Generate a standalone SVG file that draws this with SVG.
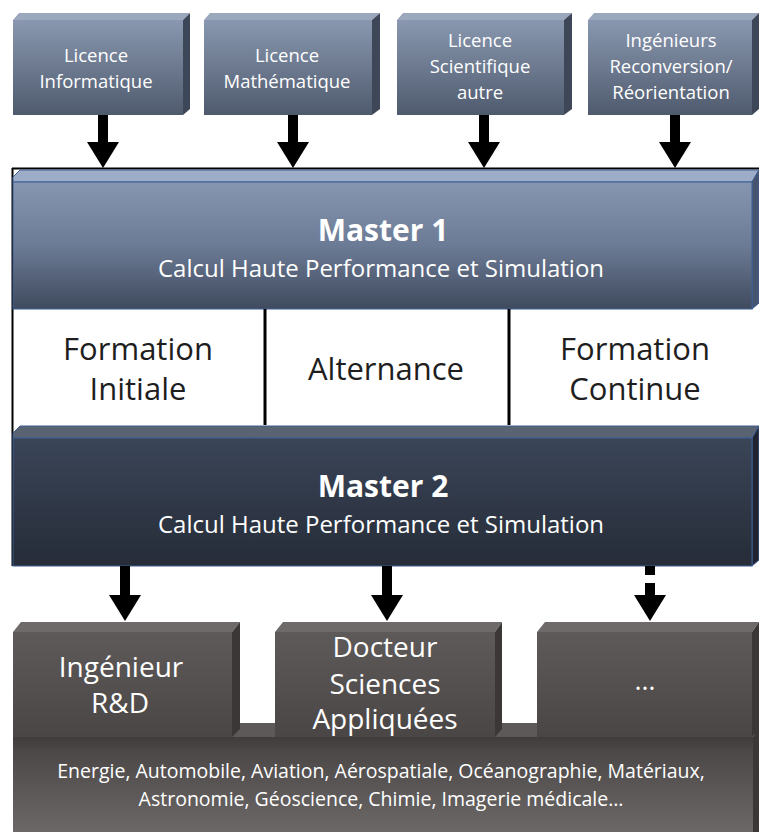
<svg xmlns="http://www.w3.org/2000/svg" width="759" height="832" viewBox="0 0 759 832">
  <defs>
    <linearGradient id="gTop" x1="0" y1="0" x2="0" y2="1">
      <stop offset="0" stop-color="#8998b0"/>
      <stop offset="1" stop-color="#4f5a6d"/>
    </linearGradient>
    <linearGradient id="gM1" x1="0" y1="0" x2="0" y2="1">
      <stop offset="0" stop-color="#8696b1"/>
      <stop offset="0.5" stop-color="#6c7b95"/>
      <stop offset="1" stop-color="#3f4a5e"/>
    </linearGradient>
    <linearGradient id="gM2" x1="0" y1="0" x2="0" y2="1">
      <stop offset="0" stop-color="#3a4558"/>
      <stop offset="1" stop-color="#262c38"/>
    </linearGradient>
    <linearGradient id="gOut" x1="0" y1="0" x2="0" y2="1">
      <stop offset="0" stop-color="#5e5a59"/>
      <stop offset="1" stop-color="#4a4645"/>
    </linearGradient>
    <linearGradient id="gBase" x1="0" y1="0" x2="0" y2="1">
      <stop offset="0" stop-color="#3f3c3b"/>
      <stop offset="0.15" stop-color="#4c4847"/>
      <stop offset="1" stop-color="#6c6867"/>
    </linearGradient>
    <marker id="head" viewBox="0 0 26 32" refX="0" refY="16" markerWidth="26" markerHeight="32" markerUnits="userSpaceOnUse" orient="auto">
      <path d="M0 0 L26 16 L0 32 Z" fill="#000"/>
    </marker>
    <style>
      .t { font-family: "Open Sans", "Liberation Sans", sans-serif; text-anchor: middle; }
      .w { fill: #ffffff; }
      .k { fill: #1e1e1e; }
      .top-front { fill: url(#gTop); }
      .top-bevel { fill: #9aa7bd; }
      .top-side { fill: #3e4757; }
      .m1-bevel { fill: #9dadc8; stroke: #3f5f93; stroke-width: 1; }
      .m1-side { fill: #465470; stroke: #3f5f93; stroke-width: 1; }
      .m2-bevel { fill: #5a6371; stroke: #3f5f93; stroke-width: 1; }
      .m2-side { fill: #1f2430; stroke: #3f5f93; stroke-width: 1; }
      .out-bevel { fill: #6e6a69; }
      .out-side { fill: #3a3736; }
      .stem { stroke: #000; stroke-width: 10; fill: none; }
    </style>
  </defs>

  <rect width="759" height="832" fill="#ffffff"/>

  <!-- entry tracks -->
  <g id="licence-info">
    <polygon class="top-bevel" points="13,20 19,13 190,13 183,20"/>
    <polygon class="top-side" points="183,20 190,13 190,109 183,115"/>
    <rect class="top-front" x="13" y="20" width="170" height="95"/>
    <text class="t w" font-size="18.5" x="96" y="62">Licence</text>
    <text class="t w" font-size="18.5" x="96" y="88">Informatique</text>
  </g>
  <g id="licence-math">
    <polygon class="top-bevel" points="204,20 210,13 380,13 372,20"/>
    <polygon class="top-side" points="372,20 380,13 380,109 372,115"/>
    <rect class="top-front" x="204" y="20" width="168" height="95"/>
    <text class="t w" font-size="18.5" x="287" y="62">Licence</text>
    <text class="t w" font-size="18.5" x="287" y="88">Mathématique</text>
  </g>
  <g id="licence-sci">
    <polygon class="top-bevel" points="397,20 403,13 572,13 564,20"/>
    <polygon class="top-side" points="564,20 572,13 572,109 564,115"/>
    <rect class="top-front" x="397" y="20" width="167" height="95"/>
    <text class="t w" font-size="18.5" x="480" y="47">Licence</text>
    <text class="t w" font-size="18.5" x="480" y="73">Scientifique</text>
    <text class="t w" font-size="18.5" x="480" y="99">autre</text>
  </g>
  <g id="ingenieurs">
    <polygon class="top-bevel" points="588,20 594,13 759,13 752,20"/>
    <polygon class="top-side" points="752,20 759,13 759,109 752,115"/>
    <rect class="top-front" x="588" y="20" width="164" height="95"/>
    <text class="t w" font-size="18.5" x="671" y="47">Ingénieurs</text>
    <text class="t w" font-size="18.5" x="671" y="73">Reconversion/</text>
    <text class="t w" font-size="18.5" x="671" y="99">Réorientation</text>
  </g>

  <!-- frame around the master block -->
  <line x1="12" y1="168.5" x2="759" y2="168.5" stroke="#000" stroke-width="2"/>
  <line x1="12.5" y1="168" x2="12.5" y2="566" stroke="#000" stroke-width="2"/>

  <g id="master1">
    <polygon class="m1-bevel" points="13,182 13,177 20,170 759,170 752,182"/>
    <polygon class="m1-side" points="752,182 759,170 759,303 752,309"/>
    <rect x="13" y="182" width="739" height="127" fill="url(#gM1)" stroke="#3f5f93" stroke-width="1"/>
    <text class="t w" font-size="30" font-weight="bold" x="383" y="241">Master 1</text>
    <text class="t w" font-size="24" x="381" y="277">Calcul Haute Performance et Simulation</text>
  </g>

  <g id="formation">
    <rect x="14" y="310" width="745" height="115" fill="#ffffff"/>
    <line x1="265" y1="309" x2="265" y2="425" stroke="#000" stroke-width="3"/>
    <line x1="509" y1="309" x2="509" y2="425" stroke="#000" stroke-width="3"/>
    <text class="t k" font-size="31" x="138" y="360">Formation</text>
    <text class="t k" font-size="31" x="138" y="400">Initiale</text>
    <text class="t k" font-size="31" x="386" y="380">Alternance</text>
    <text class="t k" font-size="31" x="635" y="360">Formation</text>
    <text class="t k" font-size="31" x="635" y="400">Continue</text>
  </g>

  <g id="master2">
    <polygon class="m2-bevel" points="13,438 13,433 20,426 759,426 752,438"/>
    <polygon class="m2-side" points="752,438 759,426 759,560 752,566"/>
    <rect x="13" y="438" width="739" height="128" fill="url(#gM2)" stroke="#3f5f93" stroke-width="1"/>
    <text class="t w" font-size="30" font-weight="bold" x="383" y="497">Master 2</text>
    <text class="t w" font-size="24" x="381" y="533">Calcul Haute Performance et Simulation</text>
  </g>

  <!-- sectors base -->
  <g id="secteurs">
    <polygon points="13,737 25,723 759,723 753,737" fill="#5c5958"/>
    <polygon class="out-side" points="753,737 759,723 759,832 753,832"/>
    <rect x="13" y="737" width="740" height="95" fill="url(#gBase)"/>
    <text class="t w" font-size="19.5" x="381" y="778">Energie, Automobile, Aviation, Aérospatiale, Océanographie, Matériaux,</text>
    <text class="t w" font-size="19.5" x="381" y="806">Astronomie, Géoscience, Chimie, Imagerie médicale…</text>
  </g>

  <g id="ingenieur-rd">
    <polygon class="out-bevel" points="13,632 21,622 240,622 232,632"/>
    <polygon class="out-side" points="232,632 240,622 240,729 232,737"/>
    <rect x="13" y="632" width="219" height="105" fill="url(#gOut)"/>
    <text class="t w" font-size="28" x="121" y="677">Ingénieur</text>
    <text class="t w" font-size="28" x="120" y="713">R&amp;D</text>
  </g>
  <g id="docteur">
    <polygon class="out-bevel" points="275,632 283,622 502,622 495,632"/>
    <polygon class="out-side" points="495,632 502,622 502,729 495,737"/>
    <rect x="275" y="632" width="220" height="105" fill="url(#gOut)"/>
    <text class="t w" font-size="28" x="385" y="657">Docteur</text>
    <text class="t w" font-size="28" x="385" y="694">Sciences</text>
    <text class="t w" font-size="28" x="385" y="729">Appliquées</text>
  </g>
  <g id="autres">
    <polygon class="out-bevel" points="537,632 545,622 759,622 752,632"/>
    <polygon class="out-side" points="752,632 759,622 759,729 752,737"/>
    <rect x="537" y="632" width="215" height="105" fill="url(#gOut)"/>
    <text class="t w" font-size="27" x="645" y="690">…</text>
  </g>

  <g id="connectors">
    <line class="stem" x1="103" y1="115" x2="103" y2="142" marker-end="url(#head)"/>
    <line class="stem" x1="293" y1="115" x2="293" y2="142" marker-end="url(#head)"/>
    <line class="stem" x1="484" y1="115" x2="484" y2="142" marker-end="url(#head)"/>
    <line class="stem" x1="675" y1="115" x2="675" y2="142" marker-end="url(#head)"/>
    <line class="stem" x1="125" y1="566" x2="125" y2="595" marker-end="url(#head)"/>
    <line class="stem" x1="387" y1="566" x2="387" y2="595" marker-end="url(#head)"/>
    <line class="stem" x1="650" y1="566" x2="650" y2="595" stroke-dasharray="9 8 12" marker-end="url(#head)"/>
  </g>
</svg>
